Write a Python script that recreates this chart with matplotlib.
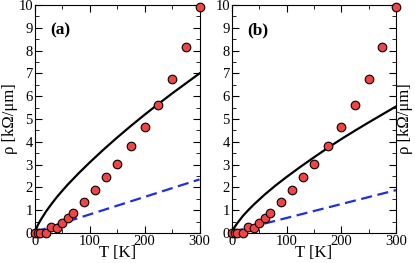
import matplotlib.pyplot as plt
from matplotlib.ticker import MultipleLocator

plt.rcParams["font.family"] = ["Liberation Serif", "DejaVu Serif"]

# measured points (same in both panels)
T_pts = [0, 5, 10, 20, 30, 40, 50, 60, 70, 90, 110, 130, 150, 175, 200, 225, 250, 275, 300]
rho_pts = [0.0, 0.0, 0.0, 0.02, 0.27, 0.22, 0.45, 0.65, 0.88, 1.35, 1.9, 2.45, 3.02,
           3.8, 4.65, 5.6, 6.77, 8.17, 9.9]

# model curves
T_line = [0, 2, 5, 10, 20, 30, 40, 50, 60, 80, 100, 125, 150, 175, 200, 225, 250, 275, 300]
solid_a = [0.0, 0.17, 0.34, 0.56, 0.94, 1.27, 1.58, 1.86, 2.13, 2.63, 3.10, 3.66,
           4.19, 4.70, 5.19, 5.66, 6.12, 6.56, 7.0]
solid_b = [0.0, 0.13, 0.27, 0.44, 0.75, 1.01, 1.25, 1.47, 1.69, 2.09, 2.46, 2.90,
           3.32, 3.73, 4.12, 4.49, 4.85, 5.20, 5.55]

T_dash = [0, 300]
dash_a = [0.05, 2.35]
dash_b = [0.05, 1.88]

fig = plt.figure(figsize=(4.15, 2.63), dpi=100)
W, H = 415, 263
ax_a = fig.add_axes([35 / W, 1 - 233 / H, 164.5 / W, 228 / H])
ax_b = fig.add_axes([232 / W, 1 - 233 / H, 164 / W, 228 / H])

for ax, solid, dash, tag in [(ax_a, solid_a, dash_a, "(a)"), (ax_b, solid_b, dash_b, "(b)")]:
    ax.plot(T_line, solid, color="black", lw=1.6)
    ax.plot(T_dash, dash, color="#1f2fe0", lw=1.6, ls=(0, (5, 2.5)))
    ax.plot(T_pts, rho_pts, "o", ms=6.2, mfc="#f24444", mec="black", mew=0.8,
            clip_on=False, zorder=5)
    ax.set_xlim(0, 300)
    ax.set_ylim(0, 10)
    ax.xaxis.set_major_locator(MultipleLocator(100))
    ax.xaxis.set_minor_locator(MultipleLocator(50))
    ax.yaxis.set_major_locator(MultipleLocator(1))
    ax.yaxis.set_minor_locator(MultipleLocator(0.5))
    ax.tick_params(which="both", direction="in", top=True, right=True,
                   labelsize=10.5, pad=1.5)
    ax.tick_params(which="major", length=5)
    ax.tick_params(which="minor", length=3)
    ax.set_xlabel("T [K]", fontsize=12, labelpad=-2)
    ax.text(0.09, 0.89, tag, transform=ax.transAxes, fontsize=12.5,
            fontweight="bold", va="center")

ax_a.set_ylabel("ρ [kΩ/μm]", fontsize=12, labelpad=0)
ax_b.yaxis.set_label_position("right")
ax_b.set_ylabel("ρ [kΩ/μm]", fontsize=12, labelpad=1)

fig.savefig("out.png", dpi=100)
